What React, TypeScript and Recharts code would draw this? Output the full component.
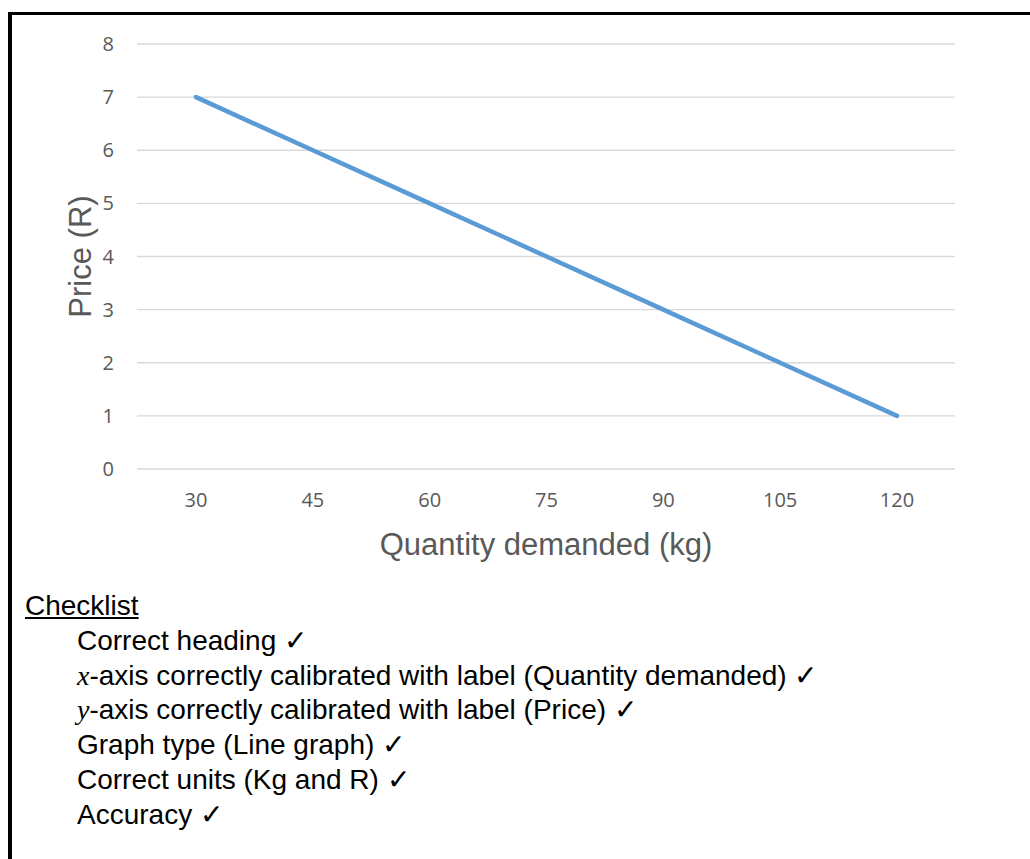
import React from "react";
import { LineChart, Line, XAxis, YAxis, CartesianGrid } from "recharts";

const quantities = [30, 45, 60, 75, 90, 105, 120];
const prices = [7, 6, 5, 4, 3, 2, 1];
const priceTicks = [0, 1, 2, 3, 4, 5, 6, 7, 8];

const checklistItems: { pre?: string; text: string }[] = [
  { text: "Correct heading \u2713" },
  { pre: "x", text: "-axis correctly calibrated with label (Quantity demanded) \u2713" },
  { pre: "y", text: "-axis correctly calibrated with label (Price) \u2713" },
  { text: "Graph type (Line graph) \u2713" },
  { text: "Correct units (Kg and R) \u2713" },
  { text: "Accuracy \u2713" },
];

const data = quantities.map((q, i) => ({ q, price: prices[i] }));

const tickStyle = { fontFamily: "'Open Sans', sans-serif", fontSize: 20, fill: "#595959" };

function PriceLabel(props: any) {
  const { viewBox } = props;
  const cx = 80;
  const cy = viewBox.y + viewBox.height / 2;
  return (
    <text
      x={cx}
      y={cy}
      textAnchor="middle"
      dominantBaseline="central"
      transform={`rotate(-90, ${cx}, ${cy})`}
      fontFamily="'Liberation Sans', Arial, sans-serif"
      fontSize={31}
      fill="#595959"
    >
      Price (R)
    </text>
  );
}

export default function App() {
  return (
    <div style={{ position: "absolute", left: 0, top: 0, width: 1030, height: 859, background: "#fff", overflow: "hidden" }}>
      <div style={{ position: "absolute", left: 8, top: 12, width: 1022, height: 3, background: "#000" }} />
      <div style={{ position: "absolute", left: 8, top: 12, width: 4, height: 847, background: "#000" }} />

      <div style={{ position: "absolute", left: 0, top: 0 }}>
        <LineChart width={1030} height={580} data={data} margin={{ top: 44, right: 75, left: 0, bottom: 21 }}>
          <CartesianGrid vertical={false} stroke="#D9D9D9" strokeWidth={1.3} />
          <XAxis
            dataKey="q"
            type="category"
            padding={{ left: 59, right: 58 }}
            axisLine={false}
            tickLine={false}
            tickSize={0}
            tickMargin={24}
            height={90}
            tick={tickStyle}
            label={{
              value: "Quantity demanded (kg)",
              position: "insideBottom",
              offset: 4,
              style: { fontFamily: "'Liberation Sans', Arial, sans-serif", fontSize: 31, fill: "#595959" },
            }}
          />
          <YAxis
            domain={[0, 8]}
            ticks={priceTicks}
            interval={0}
            axisLine={false}
            tickLine={false}
            tickSize={0}
            tickMargin={23}
            width={137}
            tick={tickStyle}
            label={<PriceLabel />}
          />
          <Line
            type="linear"
            dataKey="price"
            stroke="#5B9BD5"
            strokeWidth={4.5}
            strokeLinecap="round"
            dot={false}
            activeDot={false}
            isAnimationActive={false}
          />
        </LineChart>
      </div>

      <div
        style={{
          position: "absolute",
          left: 25,
          top: 589,
          fontFamily: "'Liberation Sans', Arial, sans-serif",
          fontSize: 28,
          lineHeight: "34.8px",
          color: "#000",
        }}
      >
        <div style={{ textDecoration: "underline" }}>Checklist</div>
        {checklistItems.map((item, i) => (
          <div key={i} style={{ paddingLeft: 52, whiteSpace: "nowrap" }}>
            {item.pre && (
              <span style={{ fontFamily: "'Liberation Serif', 'Times New Roman', serif", fontStyle: "italic" }}>
                {item.pre}
              </span>
            )}
            {item.text}
          </div>
        ))}
      </div>
    </div>
  );
}
